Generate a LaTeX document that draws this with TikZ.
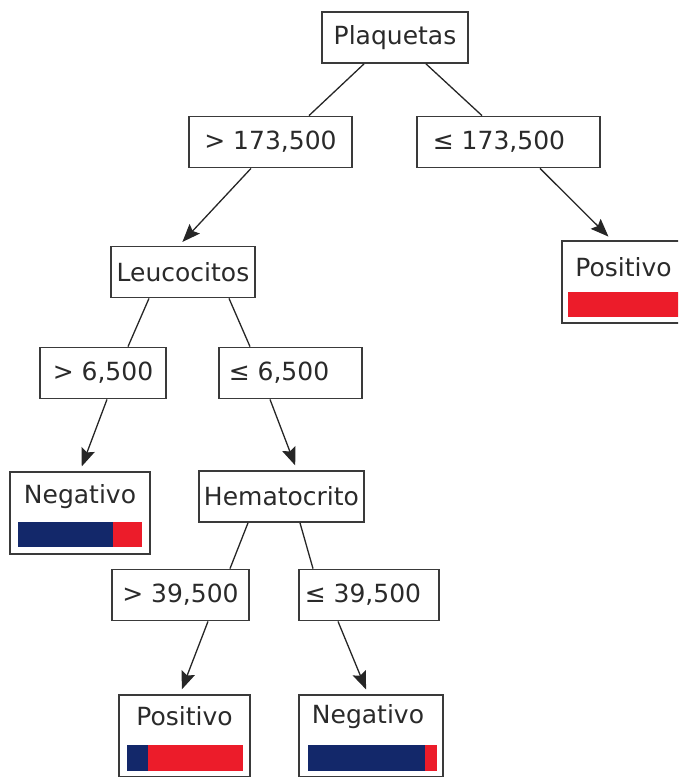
\documentclass[tikz,border=0pt]{standalone}
\usepackage{fontspec}
\setmainfont{DejaVu Sans}
\usetikzlibrary{arrows.meta,positioning}

\definecolor{boxgray}{HTML}{3A3A3A}
\definecolor{txtgray}{HTML}{2A2A2A}
\definecolor{negblue}{HTML}{13286A}
\definecolor{posred}{HTML}{EC1C2A}

\tikzset{
  cond/.style={draw=boxgray,line width=1.8pt,text=txtgray,minimum height=51pt,
    inner sep=0pt,font=\fontsize{25}{28}\selectfont},
  leaf/.style={draw=boxgray,line width=1.8pt,minimum height=82pt,inner sep=0pt},
  leaftext/.style={text=txtgray,inner sep=0pt,font=\fontsize{25}{28}\selectfont},
  edge/.style={line width=1.3pt,draw=black!85},
  arr/.style={edge,-{Stealth[length=18pt,width=14pt,inset=3pt]},shorten >=5pt}
}

\begin{document}
\begin{tikzpicture}[x=1pt,y=-1pt]
\useasboundingbox (0,0) rectangle (678,777);
\clip (0,0) rectangle (678,777);
% condition boxes
\node[cond,minimum width=146pt] (plaq) at (395,37.5) {Plaquetas};
\node[cond,minimum width=163pt] (gtP) at (270.5,142) {> 173,500};
\node[cond,minimum width=183pt] (leP) at (508.5,142) {≤ 173,500\hspace*{19pt}};
\node[cond,minimum width=144pt] (leuc) at (183,272) {Leucocitos};
\node[cond,minimum width=126pt] (gt65) at (103,373) {> 6,500};
\node[cond,minimum width=143pt] (le65) at (290.5,373) {≤ 6,500\hspace*{23pt}};
\node[cond,minimum width=165pt] (hema) at (281.5,496.5) {Hematocrito};
\node[cond,minimum width=137pt] (gt39) at (180.5,595) {> 39,500};
\node[cond,minimum width=140pt] (le39) at (369,595) {≤ 39,500\hspace*{12pt}};
% leaves
\node[leaf,minimum width=131pt] (posA) at (627.5,282) {};
\node[leaf,minimum width=140pt] (negA) at (80,513) {};
\node[leaf,minimum width=131pt] (posB) at (184.5,736) {};
\node[leaf,minimum width=144pt] (negB) at (371,736) {};
\node[leaftext] (posAtxt) at ([xshift=-4pt,yshift=-27pt]posA.north) {Positivo};
\node[leaftext] (negAtxt) at ([yshift=-25pt]negA.north) {Negativo};
\node[leaftext] (posBtxt) at ([yshift=-22pt]posB.north) {Positivo};
\node[leaftext] (negBtxt) at ([xshift=-3pt,yshift=-22pt]negB.north) {Negativo};
% bars
\fill[posred] (568,292) rectangle (687,317);
\fill[negblue] (18,522) rectangle (113,547);
\fill[posred] (113,522) rectangle (142,547);
\fill[negblue] (127,745) rectangle (148,771);
\fill[posred] (148,745) rectangle (243,771);
\fill[negblue] (308,745) rectangle (425,771);
\fill[posred] (425,745) rectangle (437,771);
% connectors
\draw[edge] ([xshift=-31pt]plaq.south) -- ([xshift=38.5pt]gtP.north);
\draw[edge] ([xshift=31pt]plaq.south) -- ([xshift=-26.5pt]leP.north);
\draw[arr] ([xshift=-19.5pt]gtP.south) -- ([xshift=-4pt]leuc.north);
\draw[arr] ([xshift=31.5pt]leP.south) -- ([xshift=-15.5pt]posA.north);
\draw[edge] ([xshift=-34pt]leuc.south) -- ([xshift=25pt]gt65.north);
\draw[edge] ([xshift=46pt]leuc.south) -- ([xshift=-40.5pt]le65.north);
\draw[arr] ([xshift=4pt]gt65.south) -- (negA.north);
\draw[arr] ([xshift=-20.5pt]le65.south) -- ([xshift=15.5pt]hema.north);
\draw[edge] ([xshift=-33.5pt]hema.south) -- ([xshift=49.5pt]gt39.north);
\draw[edge] ([xshift=18.5pt]hema.south) -- ([xshift=-56pt]le39.north);
\draw[arr] ([xshift=27.5pt]gt39.south) -- ([xshift=-4.5pt]posB.north);
\draw[arr] ([xshift=-31pt]le39.south) -- ([xshift=-3pt]negB.north);
\end{tikzpicture}
\end{document}
